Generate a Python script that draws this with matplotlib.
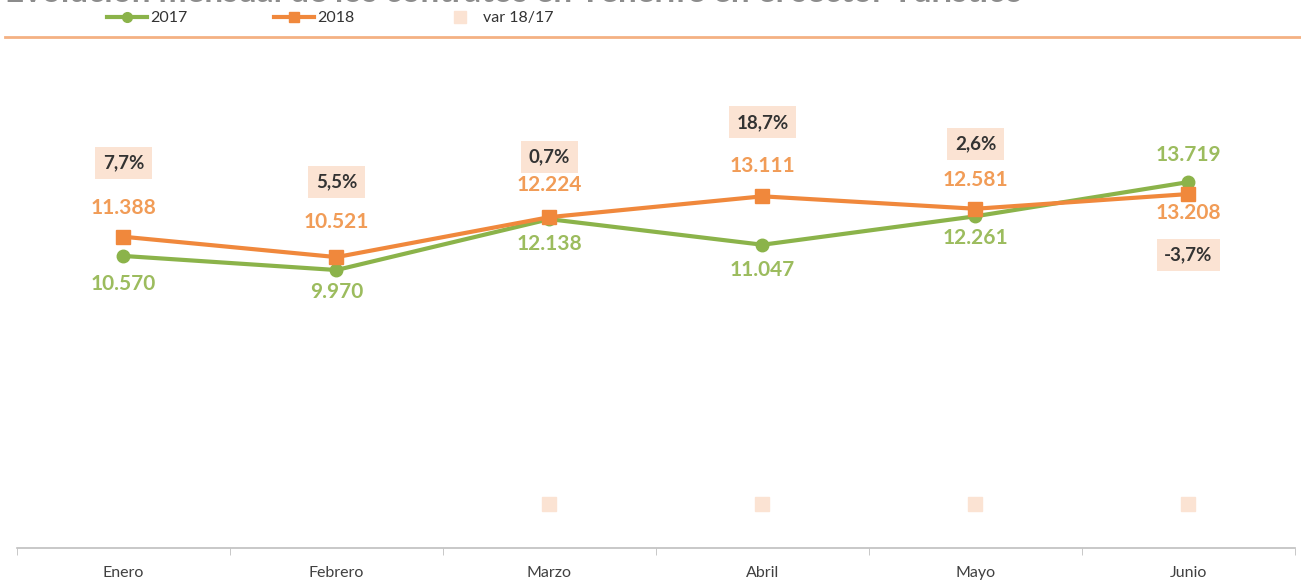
import matplotlib

matplotlib.use("Agg")
import matplotlib.pyplot as plt
from matplotlib.lines import Line2D

plt.rcParams["font.family"] = ["Lato", "DejaVu Sans"]

months = ["Enero", "Febrero", "Marzo", "Abril", "Mayo", "Junio"]
contratos_2017 = [10570, 9970, 12138, 11047, 12261, 13719]
contratos_2018 = [11388, 10521, 12224, 13111, 12581, 13208]
var_1817 = [0.077, 0.055, 0.007, 0.187, 0.026, -0.037]
var_marker_shown = [False, False, True, True, True, True]

# label offsets in pixels (dx, dy) relative to the point
off_2017 = [(0, -28), (0, -22), (0, -25), (0, -25), (0, -22), (0, 27)]
off_2018 = [(0, 29), (0, 35), (0, 32), (0, 30), (0, 29), (0, -19)]
off_var = [(0, 74), (0, 75), (0, 60), (0, 74), (0, 65), (0, -61)]

GREEN = "#8bb34a"
GREEN_TXT = "#9cbc5e"
ORANGE = "#f0883c"
ORANGE_TXT = "#f19c57"
PEACH = "#fbe3d3"


def fmt_int(v):
    return f"{v:,}".replace(",", ".")


def fmt_pct(v):
    return f"{v * 100:.1f}%".replace(".", ",")


fig = plt.figure(figsize=(13.01, 5.81), dpi=100)
ax = fig.add_axes([17 / 1301, 33 / 581, 1278 / 1301, 488 / 581])

x = list(range(len(months)))
ax.plot(x, contratos_2017, color=GREEN, lw=3, marker="o", ms=9, zorder=3)
ax.plot(x, contratos_2018, color=ORANGE, lw=3, marker="s", ms=9.5, zorder=4)

vx = [i for i, s in zip(x, var_marker_shown) if s]
vy = [v for v, s in zip(var_1817, var_marker_shown) if s]
ax.plot(vx, vy, ls="none", marker="s", ms=9.5, color=PEACH, zorder=2)

px = 0.72  # points per pixel at dpi 100
for i in x:
    ax.annotate(fmt_int(contratos_2017[i]), (i, contratos_2017[i]),
                xytext=(off_2017[i][0] * px, off_2017[i][1] * px), textcoords="offset points",
                ha="center", va="center", fontsize=15, fontweight="bold", color=GREEN_TXT)
    ax.annotate(fmt_int(contratos_2018[i]), (i, contratos_2018[i]),
                xytext=(off_2018[i][0] * px, off_2018[i][1] * px), textcoords="offset points",
                ha="center", va="center", fontsize=15, fontweight="bold", color=ORANGE_TXT)
    ax.annotate(fmt_pct(var_1817[i]), (i, contratos_2018[i]),
                xytext=(off_var[i][0] * px, off_var[i][1] * px), textcoords="offset points",
                ha="center", va="center", fontsize=13.5, fontweight="bold", color="#333333",
                bbox=dict(boxstyle="square,pad=0.4", fc=PEACH, ec="none"))

ax.set_xlim(-0.5, len(months) - 0.5)
ax.set_ylim(-1875, 18920)
ax.set_yticks([])
ax.set_xticks(x)
ax.set_xticklabels(months, fontsize=11.5, color="#404040")
ax.set_xticks([i - 0.5 for i in range(len(months) + 1)], minor=True)
ax.tick_params(axis="x", which="major", length=0, pad=13)
ax.tick_params(axis="x", which="minor", length=5, color="#bfbfbf", direction="out")
for side in ["top", "left", "right"]:
    ax.spines[side].set_visible(False)
ax.spines["bottom"].set_color("#bfbfbf")
ax.spines["bottom"].set_linewidth(1.2)

# title, clipped by the top edge
fig.text(5 / 1301, 1 - 1.5 / 581, "Evolución mensual de los contratos en Tenerife en el sector Turístico",
         ha="left", va="baseline", fontsize=24, fontweight="bold", color="#8c8c8c")

# rule under the legend
fig.add_artist(Line2D([5 / 1301, 1.0], [1 - 37 / 581, 1 - 37 / 581], color="#f4b183", lw=2))

handles = [
    Line2D([], [], color=GREEN, lw=3, marker="o", ms=7, label="2017"),
    Line2D([], [], color=ORANGE, lw=3, marker="s", ms=7, label="2018"),
    Line2D([], [], ls="none", color=PEACH, marker="s", ms=9, label="var 18/17"),
]
fig.legend(handles=handles, loc="center left", bbox_to_anchor=(107 / 1301, 1 - 18 / 581),
           ncol=3, frameon=False, fontsize=11.5, handlelength=2.5, handletextpad=0.2,
           columnspacing=5.4, labelcolor="#333333", borderaxespad=0, borderpad=0)

fig.savefig("out.png", dpi=100)
